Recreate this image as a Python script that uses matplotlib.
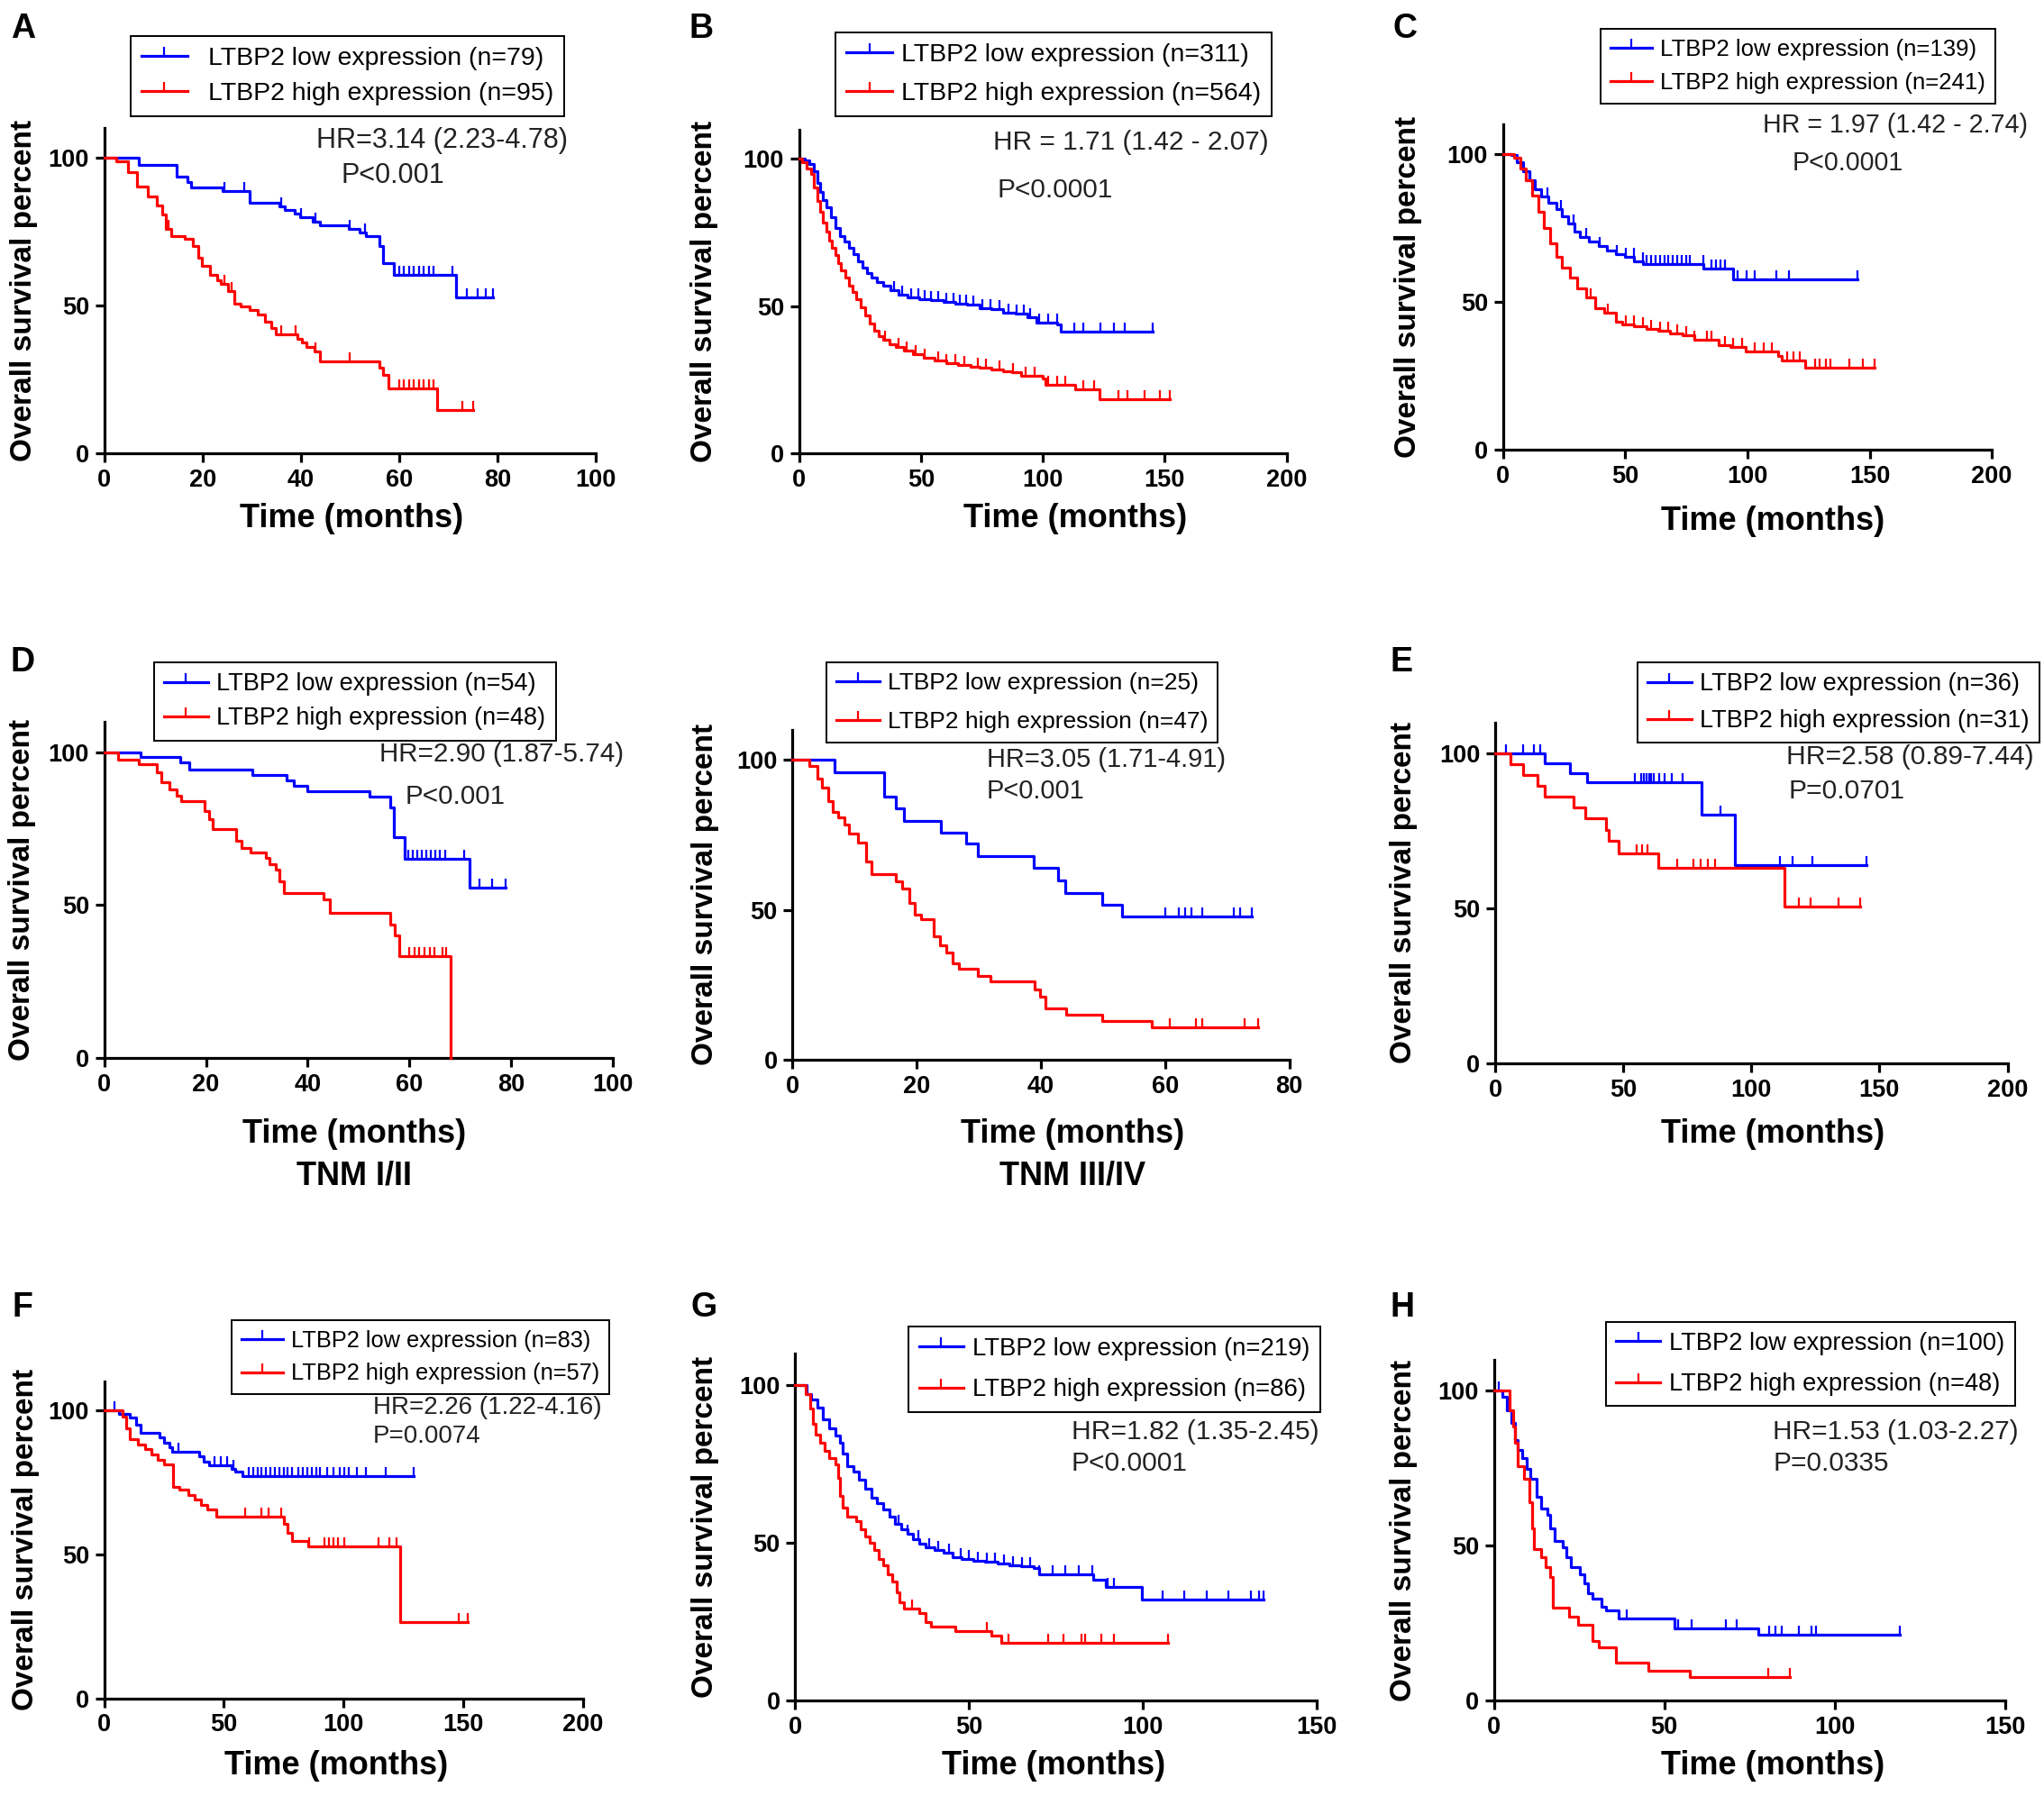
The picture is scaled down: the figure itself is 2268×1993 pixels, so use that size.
import numpy as np
import matplotlib.pyplot as plt
from matplotlib.lines import Line2D

plt.rcParams['font.family'] = ['Liberation Sans', 'DejaVu Sans']

# reference read at 1568 x 1378, positions below are in that frame
W, H = 1568.0, 1378.0
BLUE = '#0000ff'
RED = '#ff0000'

# ==========================================================
# Data (step times / survival %, censor times, last follow-up)
# ==========================================================
a_low_t = [7.1, 14.8, 17, 17.7, 24, 29.6, 35.7, 36.8, 38.7, 39.9, 42.5, 43.9, 49.7, 51.9, 53.2, 56, 56.7, 58.9, 71.5]
a_low_s = [97.6, 93.6, 91.9, 90.1, 88.8, 84.7, 83.5, 82.2, 81, 79.8, 78.4, 77.2, 76, 74.8, 73.6, 70, 64.5, 60.3, 52.9]
a_low_c = [24.5, 28.5, 36, 40, 43, 50, 53, 60, 61, 62, 63, 64, 65, 66, 67, 70.8, 73.7, 75.9, 77.7]
a_low_end = 79
a_high_t = [2.4, 4.9, 6.6, 8.8, 10.6, 11.7, 12.5, 13.7, 16.3, 18.1, 19.2, 19.9, 21.6, 23, 23.8, 25.2, 26.5,
            27.8, 29.6, 31.3, 32.7, 34, 34.9, 39.3, 40.2, 41.2, 42.8, 43.9, 56, 56.8, 57.8, 67.8]
a_high_s = [98.9, 95.2, 90.4, 87, 83.8, 80.8, 76, 73.6, 72.6, 70, 66.3, 63.3, 60.3, 58.5, 57.3, 54.9, 50.7,
            49.8, 48.6, 47.1, 44.7, 42.3, 40.3, 38.9, 37.5, 36.1, 34.5, 31.1, 29.1, 26.7, 21.9, 14.7]
a_high_c = [13, 24.5, 26, 36, 39, 43, 50, 60, 61, 62, 63, 64, 65, 66, 67, 72.8]
a_high_end = 75

b_low_t = [2.5, 4.3, 6.2, 7.4, 8.6, 9.9, 11.1, 13, 14.8, 16.7, 18.5, 20.4, 22.2, 24.1, 25.9, 27.8, 29.6,
           32.1, 34.5, 37.6, 40.7, 44.4, 49.3, 54.2, 59.2, 64.1, 69, 73.9, 78.9, 83.8, 88.7, 93.7, 97.4,
           106, 107.2]
b_low_s = [99.6, 98.4, 95.9, 91.8, 88.7, 86.2, 83.6, 80.1, 76.5, 73.9, 71.9, 69.9, 67.8, 65.3, 63.2, 61.2,
           59.7, 58.1, 57.1, 55.6, 54, 53, 52.5, 52, 51.5, 51, 50.5, 49.4, 49, 47.9, 47.4, 46.4, 44.4,
           43.8, 41.3]
b_low_c = [38.8, 42.4, 46, 48.8, 51.5, 54.2, 56.9, 60.5, 63.2, 66, 68.7, 71.4, 75, 78.6, 82.2, 85.8, 89.4,
           92.1, 94.8, 98.4, 102, 105.7, 112.9, 116.5, 123.7, 129.1, 133.7]
b_low_end = 145
b_high_t = [1.3, 3.1, 4.9, 6.2, 7.4, 8.6, 9.9, 11.1, 12.3, 13.6, 14.8, 16, 17.3, 18.8, 20.4, 21.8, 23.4,
            25.3, 27.1, 28.9, 30.8, 32.7, 34.5, 37, 39.5, 43.1, 46.8, 51.2, 55.5, 60.4, 65.3, 70.3, 74,
            78.9, 83.8, 87.5, 91.2, 99.8, 101.1, 113.4, 123.3]
b_high_s = [98.9, 96.9, 94.9, 90.3, 85.7, 82.1, 78.5, 75.5, 72.4, 69.9, 67.3, 64.8, 62.2, 59.7, 57.1, 54.9,
            52.5, 49.8, 46.9, 44.1, 41.8, 40, 38.7, 37.2, 36.2, 34.9, 33.7, 32.6, 31.6, 30.8, 30.1, 29.6,
            29.1, 28.5, 28, 27.5, 26.5, 25.5, 23.4, 21.9, 18.4]
b_high_c = [35.2, 40.7, 44.3, 47.9, 51.5, 56.9, 60.5, 64.1, 67.8, 73.2, 76.8, 82.2, 87.6, 93, 96.7, 102,
            105.7, 109.3, 116.5, 121, 131, 134.6, 141.8, 148.1]
b_high_end = 152

c_low_t = [3.3, 5.8, 8.2, 10.7, 13.1, 15.6, 18.7, 21.7, 24.2, 26.7, 29.1, 31.6, 35.3, 39, 42.6, 46.3, 50,
           53.7, 57.4, 82, 94.3]
c_low_s = [99.7, 97.2, 94.1, 91.1, 88, 85.5, 83.5, 81.4, 78.9, 76.4, 73.8, 71.8, 70.3, 68.7, 67.2, 66.2,
           65.2, 63.7, 62.7, 61.1, 57.6]
c_low_c = [11.3, 18.3, 23.6, 28.9, 34.2, 39.5, 46.6, 50.1, 53.6, 57.1, 58.9, 60.7, 62.4, 64.2, 66, 67.7,
           69.5, 71.3, 73, 74.8, 76.5, 81.8, 85.4, 87.1, 88.9, 90.7, 95.9, 99.5, 103, 111.8, 117.1]
c_low_end = 145
c_high_t = [4.5, 7, 9.5, 11.9, 14.4, 16.8, 19.3, 21.7, 24.2, 27.3, 30.4, 34, 37.7, 41.4, 46.3, 48.8, 53.7,
            58.6, 63.5, 68.4, 73.4, 78.3, 88.2, 93.1, 99.2, 112.7, 114, 123.8]
c_high_s = [98.7, 95.1, 91.1, 86, 80.4, 74.8, 69.8, 65.2, 61.6, 58.1, 54.5, 51.5, 47.9, 46.4, 43.3, 42.3,
            41.8, 40.8, 40.3, 39.3, 38.8, 37.3, 35.2, 34.7, 33.2, 31.7, 30.2, 27.6]
c_high_c = [36, 43, 50.1, 53.6, 57.1, 60.7, 64.2, 67.7, 71.3, 74.8, 78.3, 83.6, 85.4, 90.7, 94.2, 97.7, 103,
            106.5, 110.1, 116.2, 118.9, 121.5, 127.7, 129.5, 132.1, 133.9, 141.8, 147.1]
c_high_end = 152

d1_low_t = [7.1, 14.9, 16.8, 29.1, 35.9, 37.2, 40, 52.1, 56.2, 56.9, 59.1, 71.9]
d1_low_s = [98.3, 96.5, 94.4, 92.4, 90.8, 89, 87.2, 85.4, 81.8, 72.3, 65.1, 55.6]
d1_low_c = [59.8, 60.6, 61.5, 62.4, 63.3, 64.2, 65.1, 66, 67, 70.8, 73.8, 76.3]
d1_low_end = 79
d1_high_t = [2.7, 6.8, 10.4, 11.2, 12.9, 14.2, 15.1, 19.7, 20.6, 21.4, 26, 27, 28.7, 31.7, 32.5, 33.8,
             34.5, 35.3, 43.1, 44.3, 56.3, 57.2, 58, 68.1]
d1_high_s = [97.6, 95.9, 93.5, 90.2, 87.8, 85.8, 84, 80.6, 78, 74.9, 71.1, 68.7, 67.3, 65.4, 63.3, 61.5,
             57.9, 54.1, 52, 47.4, 43.6, 40, 33.5, 0]
d1_high_c = [60, 61, 62, 63, 64, 65, 66.5, 67.3]
d1_high_end = 68.1

d2_low_t = [6.7, 14.7, 16.7, 17.9, 23.9, 28, 29.9, 38.8, 42.7, 43.9, 49.9, 53]
d2_low_s = [95.9, 87.8, 83.7, 79.6, 75.6, 72, 68, 64, 59.8, 55.6, 51.8, 47.9]
d2_low_c = [60, 62.2, 63.2, 64.3, 66, 71, 72.1]
d2_low_end = 74
d2_high_t = [2.7, 4, 4.8, 5.7, 6.4, 7.4, 8.4, 9.1, 10.5, 11.9, 12.7, 16.6, 17.7, 18.8, 19.7, 20.7, 22.7,
             23.8, 24.8, 25.8, 26.8, 29.9, 31.9, 39, 39.9, 40.8, 44, 49.9, 57.9]
d2_high_s = [97.9, 93.7, 90.6, 86.3, 82.7, 80.9, 78.4, 75.4, 72.3, 66.2, 62, 59.5, 57.1, 52.2, 48.5, 46.7,
             41.2, 38.2, 35.7, 32.1, 30.2, 27.8, 26, 23.5, 21.1, 17.1, 15, 12.8, 10.7]
d2_high_c = [60.7, 65, 66, 72.8]
d2_high_end = 75

e_low_t = [19.3, 29.3, 35.7, 80.5, 93.5]
e_low_s = [96.8, 93.7, 90.6, 80.3, 64]
e_low_c = [4.2, 10.9, 15.1, 17.6, 54.5, 57, 58, 59, 60, 61, 62, 64, 66, 69, 73, 88, 111, 116, 124]
e_low_end = 145
e_high_t = [5.9, 10.9, 16.4, 19.3, 30.7, 35.2, 43.3, 44.4, 48.3, 63.7, 112.8]
e_high_s = [96.5, 92.9, 89.6, 86.1, 82.5, 79, 75.2, 71.7, 67.8, 63.1, 50.5]
e_high_c = [55.3, 57.5, 59.5, 70.9, 77.5, 80.1, 83, 85.8, 118.7, 123.2, 134.1]
e_high_end = 142.5

f_low_t = [6, 10.5, 13.2, 15, 23.2, 25, 27.2, 28.3, 39.5, 41.7, 44, 53.1, 54.9, 57.7]
f_low_s = [98.8, 97.6, 94.9, 92.1, 90.6, 88.7, 87.2, 85.5, 83.9, 82.2, 81, 79.6, 78.7, 77.1]
f_low_c = [4.2, 31, 45.9, 48.6, 51.3, 54, 60.4, 62.2, 64, 65.8, 67.6, 69.4, 71.3, 73.1, 74.9, 76.7, 78.5,
           81.2, 83, 84.9, 86.7, 88.5, 90.3, 93, 95.7, 98.5, 100.3, 102.1, 105.7, 109.4, 117.5]
f_low_end = 129.3
f_high_t = [7.8, 9.1, 10.5, 14.1, 16.9, 19.6, 22.3, 25, 28.6, 31.4, 35, 37.7, 40.4, 43.2, 46.8, 74.9, 76.7,
            78.5, 85.2, 123.5]
f_high_s = [97.7, 93.8, 89.8, 88.1, 86.4, 84.7, 82.8, 81.1, 73.4, 72.3, 70.6, 68.9, 67.2, 65.5, 63.2, 60.4,
            57.5, 54.7, 52.8, 26.4]
f_high_c = [58.9, 65.8, 68.5, 74, 85.8, 92.1, 93.9, 95.7, 97.6, 100.3, 114.8, 119.3, 122, 148.3]
f_high_end = 152

g_low_t = [3.3, 4.6, 6.3, 8, 9.8, 11.5, 12.8, 13.7, 15, 16.7, 18.4, 20.1, 21.9, 23.6, 25.3, 27.1, 28.8,
           30.5, 32.2, 34, 35.7, 37.4, 40, 42.6, 45.2, 47.8, 51.3, 54.7, 58.2, 61.6, 65.1, 68.5, 70.3,
           85.8, 89.3, 99.7]
g_low_s = [97.4, 95.5, 93.1, 89.3, 86.4, 84.1, 81.7, 78.3, 74.5, 72.6, 70.2, 67.4, 64.5, 62.6, 60.7, 58.4,
           56, 54.5, 53.1, 51.2, 49.8, 48.8, 47.9, 46.9, 45.5, 45, 44.5, 44.1, 43.6, 43.1, 42.6, 42.2, 40.2,
           38.4, 36, 32.2]
g_low_c = [29.7, 32.3, 35.4, 38.6, 41.1, 44.3, 47.5, 50, 52.5, 55.1, 57.6, 60.1, 62.7, 65.2, 67.7, 70.3,
           74.1, 77.8, 81.6, 85.4, 89.9, 91.8, 105.7, 112, 118.4, 124.7, 131, 133.5]
g_low_end = 134.8
g_high_t = [2.9, 4.2, 5, 5.9, 7.2, 8.5, 9.8, 11.5, 12.4, 12.8, 13.7, 15, 17.6, 18.9, 20.1, 21.4, 22.7, 24,
            25.3, 26.6, 27.9, 29.2, 30.1, 31.4, 35.7, 37.4, 39.1, 46.1, 56.4, 59.2]
g_high_s = [97.4, 92.6, 87.9, 84.5, 81.7, 79.3, 76.9, 75, 70.7, 65, 61.2, 58.4, 56.9, 54.5, 52.2, 50.2,
            47.9, 45, 43.1, 40.2, 37.9, 34.5, 31.2, 29.3, 27.9, 25, 23.6, 22.2, 20.7, 18.4]
g_high_c = [33.5, 55.1, 61.4, 72.8, 77.2, 82.3, 83.5, 88, 91.8]
g_high_end = 107.3

h_low_t = [2.5, 3.8, 5, 6.1, 6.9, 8.2, 9.5, 10.7, 12.6, 13.9, 15.8, 16.4, 17.7, 20.2, 21.4, 22.7, 25.2,
           26.5, 27.7, 29, 31.5, 32.8, 36.6, 53, 77.6]
h_low_s = [97.9, 93.7, 89.5, 84.2, 81, 78.4, 74.7, 71.5, 65.7, 62, 59.9, 55.7, 51.5, 49.4, 46.2, 43, 40.9,
           37.8, 34.6, 33, 30.4, 29.3, 26.7, 23.5, 21.4]
h_low_c = [1.3, 39.1, 54.2, 58, 68.1, 71.2, 80.7, 82.6, 84.5, 89.5, 93.3, 94.6]
h_low_end = 119.2
h_high_t = [4.7, 5.7, 6.3, 6.9, 8.8, 10.3, 11.1, 11.7, 13.9, 15.1, 16.4, 17.4, 22.1, 24.6, 29, 30.9, 35.9,
            45.4, 57.4]
h_high_s = [93.7, 88.4, 83.1, 75.7, 71.5, 64.1, 55.7, 48.8, 46.2, 43, 39.9, 29.9, 27.2, 24.6, 19.3, 17.2,
            12.4, 9.8, 7.7]
h_high_c = [80.5]
h_high_end = 87

n_low = [79, 311, 139, 54, 25, 36, 83, 219, 100]
n_high = [95, 564, 241, 48, 47, 31, 57, 86, 48]
hr_text = ['HR=3.14 (2.23-4.78)', 'HR = 1.71 (1.42 - 2.07)', 'HR = 1.97 (1.42 - 2.74)',
           'HR=2.90 (1.87-5.74)', 'HR=3.05 (1.71-4.91)', 'HR=2.58 (0.89-7.44)',
           'HR=2.26 (1.22-4.16)', 'HR=1.82 (1.35-2.45)', 'HR=1.53 (1.03-2.27)']
p_text = ['P<0.001', 'P<0.0001', 'P<0.0001', 'P<0.001', 'P<0.001', 'P=0.0701',
          'P=0.0074', 'P<0.0001', 'P=0.0335']
letters = ['A', 'B', 'C', 'D', '', 'E', 'F', 'G', 'H']
subtitles = ['', '', '', 'TNM I/II', 'TNM III/IV', '', '', '', '']
xmax = [100, 200, 200, 100, 80, 200, 200, 150, 150]
xstep = [20, 50, 50, 20, 20, 50, 50, 50, 50]

curves = [
    ((a_low_t, a_low_s, a_low_c, a_low_end), (a_high_t, a_high_s, a_high_c, a_high_end)),
    ((b_low_t, b_low_s, b_low_c, b_low_end), (b_high_t, b_high_s, b_high_c, b_high_end)),
    ((c_low_t, c_low_s, c_low_c, c_low_end), (c_high_t, c_high_s, c_high_c, c_high_end)),
    ((d1_low_t, d1_low_s, d1_low_c, d1_low_end), (d1_high_t, d1_high_s, d1_high_c, d1_high_end)),
    ((d2_low_t, d2_low_s, d2_low_c, d2_low_end), (d2_high_t, d2_high_s, d2_high_c, d2_high_end)),
    ((e_low_t, e_low_s, e_low_c, e_low_end), (e_high_t, e_high_s, e_high_c, e_high_end)),
    ((f_low_t, f_low_s, f_low_c, f_low_end), (f_high_t, f_high_s, f_high_c, f_high_end)),
    ((g_low_t, g_low_s, g_low_c, g_low_end), (g_high_t, g_high_s, g_high_c, g_high_end)),
    ((h_low_t, h_low_s, h_low_c, h_low_end), (h_high_t, h_high_s, h_high_c, h_high_end)),
]

# ==========================================================
# Layout (reference pixel frame)
# ==========================================================
# axis x0, x at xmax, y at 0, y at 100
axes_px = [(80, 457, 348, 121), (613, 987, 348, 122), (1153, 1528, 345, 118),
           (80, 470, 812, 577), (608, 989, 813, 583), (1147, 1540, 816, 578),
           (80, 447, 1303, 1082), (610, 1010, 1305, 1063), (1146, 1538, 1305, 1067)]
legend_px = [(100, 28), (641, 25), (1228, 22), (118, 508), (634, 508), (1256, 508),
             (178, 1013), (697, 1018), (1232, 1014)]
legend_fs = [20.5, 20.5, 18.5, 19.5, 19, 19.5, 18.3, 19.8, 19.6]
legend_sp = [0.45, 0.6, 0.52, 0.45, 0.72, 0.55, 0.5, 0.7, 0.7]
hr_px = [(243, 108), (762, 109), (1352, 96), (291, 579), (757, 583), (1370, 581),
         (286, 1080), (822, 1099), (1360, 1099)]
p_px = [(262, 135), (765, 146), (1375, 125), (311, 611), (757, 607), (1372, 607),
        (286, 1102), (822, 1123), (1360, 1123)]
hr_fs = [22, 21.4, 20.6, 21.3, 20.9, 21.6, 20, 21.6, 21.4]
letter_px = [(18, 22), (538, 22), (1078, 22), (17, 508), (0, 0), (1075, 508),
             (17, 1003), (540, 1003), (1076, 1003)]
xlab_px = [(270, 398), (825, 398), (1360, 400), (272, 870), (823, 870), (1360, 870),
           (258, 1355), (808, 1355), (1360, 1355)]
ylab_x = [18, 540, 1080, 17, 541, 1077, 20, 541, 1077]


def fx(x):
    return x / W


def fy(y):
    return 1 - y / H


def draw_curve(ax, t, s, cens, end, color):
    tt = np.concatenate([[0], t, [end]])
    ss = np.concatenate([[100], s, [s[-1]]])
    ax.step(tt, ss, where='post', color=color, lw=2.3, clip_on=False, zorder=3)
    idx = np.searchsorted(tt, cens, side='right') - 1
    ax.plot(cens, ss[idx], ls='none', marker=2, ms=7, mew=1.6, color=color,
            clip_on=False, zorder=3)
    if s[-1] > 0:
        ax.plot([end], [s[-1]], ls='none', marker=2, ms=7, mew=1.6, color=color,
                clip_on=False, zorder=3)


fig = plt.figure(figsize=(22.68, 19.93), dpi=100)

for i in range(9):
    x0, x1, y0, y100 = axes_px[i]
    ytop = y0 - 1.1 * (y0 - y100)
    ax = fig.add_axes([fx(x0), fy(y0), (x1 - x0) / W, (y0 - ytop) / H])

    low, high = curves[i]
    draw_curve(ax, *low, BLUE)
    draw_curve(ax, *high, RED)

    ax.set_xlim(0, xmax[i])
    ax.set_ylim(0, 110)
    ax.set_xticks(np.arange(0, xmax[i] + 1, xstep[i]))
    ax.set_yticks([0, 50, 100])
    ax.spines[['top', 'right']].set_visible(False)
    for side in ['left', 'bottom']:
        ax.spines[side].set_linewidth(2.3)
    ax.tick_params(width=2.3, length=7, labelsize=19.5, pad=5)
    for lab in ax.get_xticklabels() + ax.get_yticklabels():
        lab.set_fontweight('bold')

    handles = [Line2D([], [], color=BLUE, lw=2.3, marker=2, ms=7, mew=1.6),
               Line2D([], [], color=RED, lw=2.3, marker=2, ms=7, mew=1.6)]
    labels = [f'LTBP2 low expression (n={n_low[i]})', f'LTBP2 high expression (n={n_high[i]})']
    lx, ly = legend_px[i]
    leg = ax.legend(handles, labels, loc='upper left', bbox_to_anchor=(fx(lx), fy(ly)),
                    bbox_transform=fig.transFigure, fontsize=legend_fs[i], numpoints=1,
                    handlelength=1.8, handletextpad=0.35 if i else 0.8, borderpad=0.42,
                    labelspacing=legend_sp[i], borderaxespad=0, fancybox=False, framealpha=1)
    leg.get_frame().set_edgecolor('black')
    leg.get_frame().set_linewidth(1.4)

    fig.text(fx(hr_px[i][0]), fy(hr_px[i][1]), hr_text[i], fontsize=hr_fs[i], va='center', color='#222222')
    fig.text(fx(p_px[i][0]), fy(p_px[i][1]), p_text[i], fontsize=hr_fs[i], va='center', color='#222222')

    if letters[i]:
        fig.text(fx(letter_px[i][0]), fy(letter_px[i][1]), letters[i], fontsize=27,
                 fontweight='bold', ha='center', va='center')
    fig.text(fx(xlab_px[i][0]), fy(xlab_px[i][1]), 'Time (months)', fontsize=26,
             fontweight='bold', ha='center', va='center')
    if subtitles[i]:
        fig.text(fx(xlab_px[i][0]), fy(xlab_px[i][1] + 32), subtitles[i], fontsize=26,
                 fontweight='bold', ha='center', va='center')
    fig.text(fx(ylab_x[i]), fy((y0 + ytop) / 2), 'Overall survival percent', fontsize=24,
             fontweight='bold', rotation=90, ha='center', va='center')

fig.savefig('out.png', dpi=100)
